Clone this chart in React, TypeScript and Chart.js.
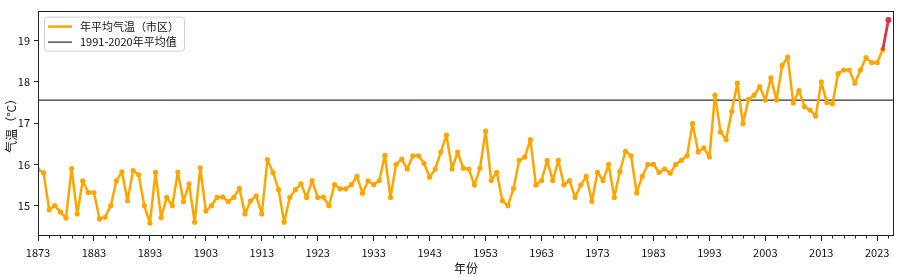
import React, { useEffect, useRef } from 'react';
import { Chart, registerables } from 'chart.js';

Chart.register(...registerables);

// ---- data ----
const START_YEAR = 1873;
const temps: number[] = [
  15.87, 15.8, 14.9, 15.0, 14.85, 14.7, 15.9, 14.8, 15.6, 15.32, // 1873-1882
  15.32, 14.68, 14.72, 15.0, 15.6, 15.82, 15.12, 15.85, 15.75, 15.0, // 1883-1892
  14.58, 15.81, 14.71, 15.2, 15.0, 15.81, 15.1, 15.53, 14.6, 15.92, // 1893-1902
  14.87, 15.0, 15.2, 15.21, 15.1, 15.2, 15.42, 14.8, 15.12, 15.24, // 1903-1912
  14.8, 16.12, 15.8, 15.39, 14.6, 15.2, 15.39, 15.53, 15.2, 15.61, // 1913-1922
  15.2, 15.21, 15.0, 15.51, 15.41, 15.41, 15.51, 15.71, 15.3, 15.6, // 1923-1932
  15.51, 15.61, 16.22, 15.2, 16.0, 16.13, 15.89, 16.21, 16.21, 16.03, // 1933-1942
  15.69, 15.89, 16.3, 16.71, 15.89, 16.3, 15.91, 15.89, 15.5, 15.91, // 1943-1952
  16.81, 15.61, 15.81, 15.12, 15.0, 15.42, 16.1, 16.18, 16.6, 15.5, // 1953-1962
  15.61, 16.1, 15.61, 16.1, 15.5, 15.61, 15.2, 15.5, 15.71, 15.1, // 1963-1972
  15.81, 15.61, 16.0, 15.2, 15.83, 16.32, 16.21, 15.31, 15.71, 16.0, // 1973-1982
  16.0, 15.81, 15.89, 15.79, 16.0, 16.1, 16.21, 16.99, 16.3, 16.4, // 1983-1992
  16.18, 17.68, 16.79, 16.6, 17.29, 17.97, 16.99, 17.58, 17.68, 17.89, // 1993-2002
  17.56, 18.1, 17.56, 18.4, 18.6, 17.49, 17.79, 17.4, 17.32, 17.17, // 2003-2012
  18.0, 17.5, 17.47, 18.2, 18.29, 18.29, 17.97, 18.29, 18.59, 18.47, // 2013-2022
  18.47, 18.79, 19.5, // 2023-2025
];
const years: number[] = temps.map((_, i) => START_YEAR + i);
const meanValue = 17.56;
const xMajorTicks = [1873, 1883, 1893, 1903, 1913, 1923, 1933, 1943, 1953, 1963, 1973, 1983, 1993, 2003, 2013, 2023];
const xMinorTicks = [
  1875, 1877, 1879, 1881, 1885, 1887, 1889, 1891, 1895, 1897, 1899, 1901,
  1905, 1907, 1909, 1911, 1915, 1917, 1919, 1921, 1925, 1927, 1929, 1931,
  1935, 1937, 1939, 1941, 1945, 1947, 1949, 1951, 1955, 1957, 1959, 1961,
  1965, 1967, 1969, 1971, 1975, 1977, 1979, 1981, 1985, 1987, 1989, 1991,
  1995, 1997, 1999, 2001, 2005, 2007, 2009, 2011, 2015, 2017, 2019, 2021, 2025,
];
const yTicks = [15, 16, 17, 18, 19];
const legendLabels = ['年平均气温（市区）', '1991-2020年平均值'];
const xTitle = '年份';
const yTitle = '气温（°C）';

const ORANGE = '#FFA500';
const RED = '#D9364A';
const FONT = '"Noto Sans CJK SC", "DejaVu Sans", sans-serif';

const framePlugin = {
  id: 'frameAndMinor',
  afterDraw(chart: any) {
    const { ctx, chartArea, scales } = chart;
    const { left, top, right, bottom } = chartArea;
    ctx.save();
    ctx.strokeStyle = '#222';
    ctx.lineWidth = 1;
    ctx.strokeRect(Math.round(left) + 0.5, Math.round(top) + 0.5, Math.round(right - left) - 1, Math.round(bottom - top));
    // minor ticks
    ctx.beginPath();
    xMinorTicks.forEach((m) => {
      const px = Math.round(scales.x.getPixelForValue(m)) + 0.5;
      ctx.moveTo(px, bottom);
      ctx.lineTo(px, bottom + 3.5);
    });
    ctx.stroke();

    // legend
    const bx = left + 6, by = top + 6, bw = 140, bh = 34;
    ctx.fillStyle = 'rgba(255,255,255,0.85)';
    ctx.strokeStyle = '#d0d0d0';
    ctx.beginPath();
    (ctx as any).roundRect(bx + 0.5, by + 0.5, bw, bh, 3);
    ctx.fill();
    ctx.stroke();
    ctx.lineCap = 'butt';
    ctx.strokeStyle = ORANGE;
    ctx.lineWidth = 2.5;
    ctx.beginPath();
    ctx.moveTo(bx + 4, by + 10);
    ctx.lineTo(bx + 28, by + 10);
    ctx.stroke();
    ctx.strokeStyle = '#000';
    ctx.lineWidth = 1;
    ctx.beginPath();
    ctx.moveTo(bx + 4, by + 25.5);
    ctx.lineTo(bx + 28, by + 25.5);
    ctx.stroke();
    ctx.fillStyle = '#111';
    ctx.font = `11px ${FONT}`;
    ctx.textBaseline = 'middle';
    ctx.textAlign = 'left';
    ctx.fillText(legendLabels[0], bx + 36, by + 10);
    ctx.fillText(legendLabels[1], bx + 36, by + 25.5);
    ctx.restore();
  },
};

export default function App() {
  const ref = useRef<HTMLCanvasElement | null>(null);
  useEffect(() => {
    document.body.style.margin = '0';
    if (!ref.current) return;
    const orangeData = years.slice(0, -1).map((y, i) => ({ x: y, y: temps[i] }));
    const n = years.length;
    const redData = [
      { x: years[n - 2], y: temps[n - 2] },
      { x: years[n - 1], y: temps[n - 1] },
    ];
    const chart = new Chart(ref.current, {
      type: 'line',
      data: {
        datasets: [
          {
            label: legendLabels[1],
            data: [
              { x: 1873, y: meanValue },
              { x: 2026, y: meanValue },
            ],
            borderColor: '#000',
            borderWidth: 1,
            pointRadius: 0,
            order: 3,
          },
          {
            label: legendLabels[0],
            data: orangeData,
            borderColor: ORANGE,
            backgroundColor: ORANGE,
            borderWidth: 2.5,
            borderJoinStyle: 'round',
            borderCapStyle: 'round',
            pointRadius: 2.6,
            pointBorderWidth: 0,
            pointBackgroundColor: ORANGE,
            tension: 0,
            order: 2,
          },
          {
            label: 'latest',
            data: redData,
            borderColor: RED,
            backgroundColor: RED,
            borderWidth: 2.8,
            borderCapStyle: 'round',
            pointRadius: [0, 3],
            pointBorderWidth: 0,
            pointBackgroundColor: RED,
            order: 1,
          },
        ],
      },
      options: {
        responsive: false,
        animation: false,
        layout: { padding: { top: 5, right: 6, left: 0, bottom: 0 } },
        plugins: { legend: { display: false }, tooltip: { enabled: false } },
        scales: {
          x: {
            type: 'linear',
            min: 1873,
            max: 2026,
            afterBuildTicks: (scale: any) => {
              scale.ticks = xMajorTicks.map((v) => ({ value: v }));
            },
            afterFit: (scale: any) => {
              scale.height = 42;
            },
            ticks: {
              autoSkip: false,
              maxRotation: 0,
              padding: 5,
              color: '#111',
              font: { size: 11, family: FONT },
              callback: (v: any) => String(v),
            },
            grid: { display: true, drawOnChartArea: false, drawTicks: true, tickLength: 6, color: '#222' },
            border: { display: false },
            title: { display: true, text: xTitle, color: '#111', font: { size: 12, family: FONT }, padding: { top: 0, bottom: 1 } },
          },
          y: {
            type: 'linear',
            min: 14.29,
            max: 19.73,
            afterBuildTicks: (scale: any) => {
              scale.ticks = yTicks.map((v) => ({ value: v }));
            },
            afterFit: (scale: any) => {
              scale.width = 38;
            },
            ticks: {
              padding: 4,
              color: '#111',
              font: { size: 11, family: FONT },
              callback: (v: any) => String(v),
            },
            grid: { display: true, drawOnChartArea: false, drawTicks: true, tickLength: 4, color: '#222' },
            border: { display: false },
            title: { display: true, text: yTitle, color: '#111', font: { size: 12, family: FONT }, padding: { top: 4, bottom: 0 } },
          },
        },
      },
      plugins: [framePlugin],
    } as any);
    return () => chart.destroy();
  }, []);
  return (
    <div style={{ width: 900, height: 277 }}>
      <canvas ref={ref} width={900} height={277} />
    </div>
  );
}
